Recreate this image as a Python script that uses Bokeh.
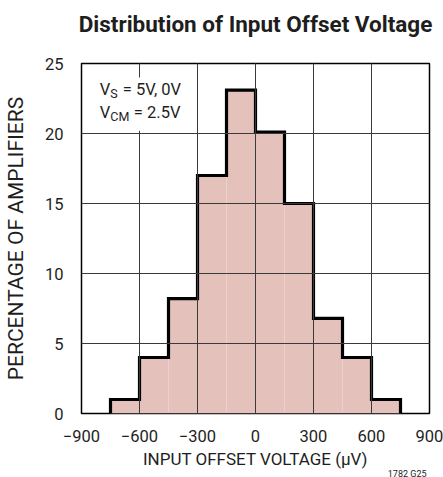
from bokeh.plotting import figure
from bokeh.models import Label, BoxAnnotation, FixedTicker, Title
from bokeh.embed import file_html
from bokeh.resources import INLINE

# Data
bin_left = [-750, -600, -450, -300, -150, 0, 150, 300, 450, 600]
bin_width = 150
percent = [1.0, 4.0, 8.2, 17.0, 23.1, 20.1, 15.0, 6.8, 4.0, 1.0]
x_ticks = [-900, -600, -300, 0, 300, 600, 900]
x_tick_labels = ["\u2212900", "\u2212600", "\u2212300", "0", "300", "600", "900"]
y_ticks = [0, 5, 10, 15, 20, 25]

FONT = "Roboto"
TXT = "#1e1e1e"

p = figure(width=443, height=477, x_range=(-900, 900), y_range=(0, 25),
           output_backend="svg", toolbar_location=None,
           min_border_left=77, min_border_right=14, min_border_top=63, min_border_bottom=63)

p.title.text = "Distribution of Input Offset Voltage\n "
p.title.align = "center"
p.title.vertical_align = "bottom"
p.title.text_font = FONT
p.title.text_font_size = "22.5px"
p.title.text_font_style = "bold"
p.title.text_color = TXT
p.title.standoff = 2

right = [l + bin_width for l in bin_left]
p.quad(left=bin_left, right=right, bottom=0, top=percent,
       fill_color="#E4C1BB", line_color=None)

# step outline
sx = [bin_left[0]]
sy = [0]
for l, r, h in zip(bin_left, right, percent):
    sx += [l, r]
    sy += [h, h]
sx.append(right[-1])
sy.append(0)
p.line(sx, sy, line_color="black", line_width=3.2, line_join="miter")

for g in (p.xgrid, p.ygrid):
    g.level = "guide"
    g.grid_line_color = "#3a3a3a"
    g.grid_line_width = 1
p.xgrid.ticker = FixedTicker(ticks=x_ticks)
p.ygrid.ticker = FixedTicker(ticks=y_ticks)

p.xaxis.ticker = FixedTicker(ticks=x_ticks)
p.xaxis.major_label_overrides = {t: s for t, s in zip(x_ticks, x_tick_labels)}
p.yaxis.ticker = FixedTicker(ticks=y_ticks)

for ax in (p.xaxis, p.yaxis):
    ax.axis_line_color = None
    ax.major_tick_line_color = None
    ax.minor_tick_line_color = None
    ax.major_label_text_font = FONT
    ax.major_label_text_font_size = "16.5px"
    ax.major_label_text_color = TXT
    ax.axis_label_text_font = FONT
    ax.axis_label_text_font_style = "normal"
    ax.axis_label_text_color = TXT

p.xaxis.axis_label_text_font_size = "17px"
p.yaxis.axis_label_text_font_size = "21px"
p.xaxis.axis_label = "INPUT OFFSET VOLTAGE (\u03bcV)"
p.yaxis.axis_label = "PERCENTAGE OF AMPLIFIERS"
p.xaxis.major_label_standoff = 10
p.yaxis.major_label_standoff = 12
p.xaxis.axis_label_standoff = 4
p.yaxis.axis_label_standoff = 14

p.outline_line_color = "black"
p.outline_line_width = 1.5

# white box behind annotation
p.add_layout(BoxAnnotation(left=-835, right=-560, bottom=20.2, top=24.0,
                           fill_color="white", fill_alpha=1.0, line_color=None))

def lab(x, y, text, dx=0, dy=0, size="16.5px"):
    p.add_layout(Label(x=x, y=y, x_offset=dx, y_offset=dy, text=text,
                       text_font=FONT, text_font_size=size, text_color=TXT,
                       text_baseline="alphabetic"))

lab(-805, 23.15, "V")
lab(-805, 23.15, "S", dx=10.5, dy=-4.5, size="12.5px")
lab(-805, 23.15, "= 5V, 0V", dx=23)
lab(-805, 21.52, "V")
lab(-805, 21.52, "CM", dx=10.5, dy=-4.5, size="12.5px")
lab(-805, 21.52, "= 2.5V", dx=34)

p.add_layout(Title(text="1782 G25", align="right", vertical_align="top", offset=3, standoff=-6,
                   text_font=FONT, text_font_size="9px", text_font_style="normal",
                   text_color=TXT), "below")

open("out.html", "w").write(file_html(p, INLINE))
